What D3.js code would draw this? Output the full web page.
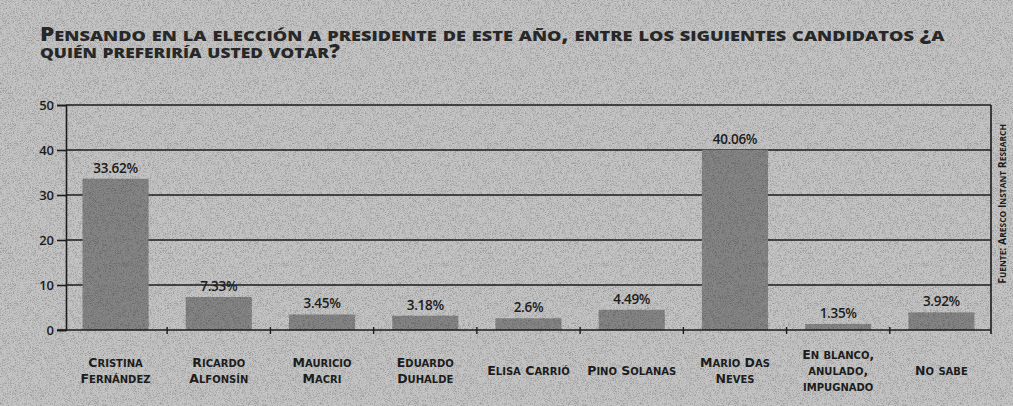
<!DOCTYPE html>
<html>
<head>
<meta charset="utf-8">
<script src="https://cdn.jsdelivr.net/npm/d3@7.9.0/dist/d3.min.js"></script>
<style>
  html, body { margin: 0; padding: 0; background: #c0c0c0; }
  svg { display: block; font-family: "Open Sans", "Noto Sans", sans-serif; }
</style>
</head>
<body>
<svg id="chart" width="1013" height="406"></svg>
<script>
const categories = [
  ['Cristina', 'Fernández'],
  ['Ricardo', 'Alfonsín'],
  ['Mauricio', 'Macri'],
  ['Eduardo', 'Duhalde'],
  ['Elisa Carrió'],
  ['Pino Solanas'],
  ['Mario Das', 'Neves'],
  ['En blanco,', 'anulado,', 'impugnado'],
  ['No sabe'],
];
const values = [33.62, 7.33, 3.45, 3.18, 2.6, 4.49, 40.06, 1.35, 3.92];
const valueLabels = ['33.62%', '7.33%', '3.45%', '3.18%', '2.6%', '4.49%', '40.06%', '1.35%', '3.92%'];
const yTicks = [0, 10, 20, 30, 40, 50];
const titleLines = [
  'Pensando en la elección a presidente de este año, entre los siguientes candidatos ¿a',
  'quién preferiría usted votar?',
];
const source = 'Fuente: Aresco Instant Research';

const width = 1013;
const height = 406;
const margin = { top: 105, right: 22, bottom: 76, left: 66 };
const ink = '#1e1e1e';
const capsFont = '"DejaVu Sans", "Open Sans", sans-serif';

const svg = d3.select('#chart');

// fake small caps: lowercase letters drawn as smaller capitals
function smallCaps(sel, size, ratio = 0.8) {
  sel.each(function (d) {
    const el = d3.select(this);
    const str = el.attr('data-t');
    const runs = [];
    for (const ch of str) {
      const low = ch !== ch.toUpperCase();
      const last = runs[runs.length - 1];
      if (last && last.low === low) last.s += ch;
      else runs.push({ low, s: ch });
    }
    el.selectAll('tspan.r')
      .data(runs)
      .join('tspan')
      .attr('class', 'r')
      .attr('font-size', r => (r.low ? size * ratio : size))
      .text(r => r.s.toUpperCase());
  });
}

// paper grain
const defs = svg.append('defs');
const grain = defs.append('filter').attr('id', 'grain').attr('x', 0).attr('y', 0)
  .attr('width', '100%').attr('height', '100%');
grain.append('feTurbulence').attr('type', 'fractalNoise').attr('baseFrequency', 1.6)
  .attr('numOctaves', 1).attr('seed', 3);
grain.append('feColorMatrix').attr('type', 'matrix')
  .attr('values', '0 0 0 0 0  0 0 0 0 0  0 0 0 0 0  0 0 0 -2.4 1.3');

svg.append('rect').attr('width', width).attr('height', height).attr('fill', '#c4c4c4');

const x = d3.scaleBand()
  .domain(d3.range(values.length))
  .range([margin.left, width - margin.right])
  .paddingInner(0.36)
  .paddingOuter(0.16);

const y = d3.scaleLinear().domain([0, 50]).range([height - margin.bottom, margin.top]);

// title: heavy small caps, stretched horizontally to the printed width
const titleWidths = [905, 300];
svg.append('g')
  .selectAll('text')
  .data(titleLines)
  .join('text')
  .attr('font-family', '"Open Sans", sans-serif')
  .attr('font-weight', 800)
  .attr('fill', '#2a2a2a')
  .attr('data-t', d => d)
  .call(smallCaps, 18.5, 0.8)
  .each(function (d, i) {
    const w = this.getComputedTextLength();
    const sx = titleWidths[i] / w;
    d3.select(this).attr('transform', `translate(40,${41 + i * 16.5}) scale(${sx},1)`);
  });

// gridlines
svg.append('g')
  .selectAll('line')
  .data(yTicks.filter(d => d > 0))
  .join('line')
  .attr('x1', margin.left)
  .attr('x2', width - margin.right)
  .attr('y1', d => y(d))
  .attr('y2', d => y(d))
  .attr('stroke', ink)
  .attr('stroke-width', 1.6);

// right border
svg.append('line')
  .attr('x1', width - margin.right).attr('x2', width - margin.right)
  .attr('y1', y(50)).attr('y2', y(0) + 4)
  .attr('stroke', ink).attr('stroke-width', 1.6);

// bars
svg.append('g')
  .selectAll('rect')
  .data(values)
  .join('rect')
  .attr('x', (d, i) => x(i))
  .attr('width', x.bandwidth())
  .attr('y', d => y(d))
  .attr('height', d => y(0) - y(d))
  .attr('fill', '#858585');

// value labels
svg.append('g')
  .selectAll('text')
  .data(values)
  .join('text')
  .attr('x', (d, i) => x(i) + x.bandwidth() / 2)
  .attr('y', d => y(d) - 6)
  .attr('text-anchor', 'middle')
  .attr('font-size', 13.5)
  .attr('font-weight', 600)
  .attr('letter-spacing', -0.3)
  .attr('fill', ink)
  .text((d, i) => valueLabels[i]);

// y axis
const yAxis = svg.append('g')
  .attr('transform', `translate(${margin.left},0)`)
  .call(d3.axisLeft(y).tickValues(yTicks).tickSize(9).tickPadding(3));
yAxis.select('.domain').attr('stroke', ink).attr('stroke-width', 1.6);
yAxis.selectAll('.tick line').attr('stroke', ink).attr('stroke-width', 1.6);
yAxis.selectAll('.tick text')
  .attr('font-family', '"Open Sans", sans-serif')
  .attr('font-size', 13)
  .attr('font-weight', 600)
  .attr('fill', ink);

// x axis baseline with small ticks at band boundaries
const step = x.step();
const boundaries = d3.range(1, values.length).map(i => x(i) - step * x.paddingInner() / 2);
svg.append('line')
  .attr('x1', margin.left - 9).attr('x2', width - margin.right)
  .attr('y1', y(0)).attr('y2', y(0))
  .attr('stroke', ink).attr('stroke-width', 1.6);
svg.append('g')
  .selectAll('line')
  .data(boundaries)
  .join('line')
  .attr('x1', d => d).attr('x2', d => d)
  .attr('y1', y(0) - 3).attr('y2', y(0) + 4)
  .attr('stroke', ink).attr('stroke-width', 1.4);

// category labels
svg.append('g')
  .selectAll('text')
  .data(categories.flatMap((lines, i) => lines.map((t, k) => ({ t, i, k, n: lines.length }))))
  .join('text')
  .attr('text-anchor', 'middle')
  .attr('font-family', capsFont)
  .attr('font-weight', 700)
  .attr('fill', ink)
  .attr('x', d => x(d.i) + x.bandwidth() / 2)
  .attr('y', d => 375 + (d.k - (d.n - 1) / 2) * 16)
  .attr('data-t', d => d.t)
  .call(smallCaps, 12.5, 0.8);

// source, vertical
svg.append('text')
  .attr('transform', `translate(1006,${y(28)}) rotate(-90)`)
  .attr('text-anchor', 'middle')
  .attr('font-weight', 700)
  .attr('fill', ink)
  .attr('data-t', source)
  .call(smallCaps, 10.5, 0.8);

// grain overlay
svg.append('rect').attr('width', width).attr('height', height)
  .attr('filter', 'url(#grain)').attr('opacity', 0.3);
</script>
</body>
</html>
